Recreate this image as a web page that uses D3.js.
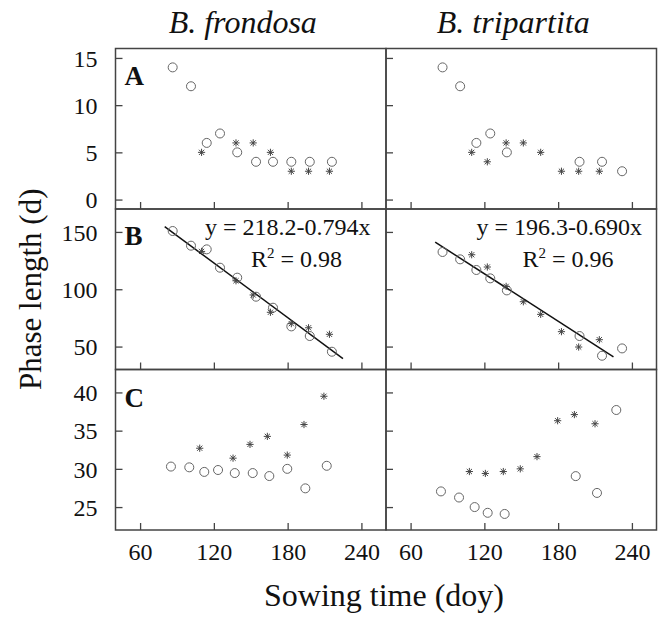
<!DOCTYPE html>
<html>
<head>
<meta charset="utf-8">
<script src="https://cdn.jsdelivr.net/npm/d3@7"></script>
<style>
  body { margin: 0; background: #fff; }
  text { font-family: "Liberation Serif", "DejaVu Serif", serif; fill: #111; }
</style>
</head>
<body>
<svg id="chart" width="664" height="619"></svg>
<script>
// sowing days (doy), per species and per symbol set
const frondosaCircleDays = [86.5, 101.4, 114.2, 125, 139, 154.3, 168.1, 183, 198, 216];
const frondosaStarDays = [110, 138, 152, 166, 183, 197, 214];
const tripartitaCircleDays = [86, 100.3, 113.5, 124.8, 138.3, 197.4, 215.7, 232];
const tripartitaStarDays = [109.7, 122.4, 137.7, 151.7, 165.8, 182.7, 196.7, 213.5];

// panel C days come out a bit to the left in the figure
const frondosaCircleDaysC = [85.1, 100, 112.2, 123.4, 137, 151.6, 165.1, 179.7, 194.4, 211.8];
const frondosaStarDaysC = [108.5, 135.6, 149.4, 163.5, 179.7, 193.3, 209.5];
const tripartitaCircleDaysC = [84.7, 99.4, 112.1, 122.7, 136.5, 194.3, 211.6, 227.3];
const tripartitaStarDaysC = [107.8, 120.8, 135.4, 149.2, 162.8, 179.6, 193.2, 210];

// A
const frondosaCircleA = [14, 12, 6, 7, 5, 4, 4, 4, 4, 4];
const frondosaStarA = [5, 6, 6, 5, 3, 3, 3];
const tripartitaCircleA = [14, 12, 6, 7, 5, 4, 4, 3];
const tripartitaStarA = [5, 4, 6, 6, 5, 3, 3, 3];

// B
const frondosaCircleB = [150.8, 138, 134.8, 118.8, 110.1, 93.5, 83.9, 67.6, 59.2, 45.5];
const frondosaStarB = [133, 107.4, 95, 79.9, 70, 66.4, 60.7];
const tripartitaCircleB = [132.5, 126.1, 116.8, 109.5, 99, 59.2, 42, 48.4];
const tripartitaStarB = [130.1, 119.4, 102.5, 89.1, 78.1, 63, 49.6, 56];

// C
const frondosaCircleC = [30.3, 30.2, 29.6, 29.85, 29.45, 29.45, 29.06, 30.0, 27.45, 30.4];
const frondosaStarC = [32.7, 31.4, 33.2, 34.25, 31.8, 35.8, 39.5];
const tripartitaCircleC = [27.05, 26.25, 25.0, 24.25, 24.1, 29.05, 26.85, 37.7];
const tripartitaStarC = [29.65, 29.4, 29.65, 30.0, 31.6, 36.3, 37.1, 35.9];

// regression lines (panel B)
const fitFrondosa = { a: 218.2, b: -0.794, from: 80, to: 225 };
const fitTripartita = { a: 196.3, b: -0.690, from: 80, to: 225 };

const xTicks = [60, 120, 180, 240];
const rowTicks = [[0, 5, 10, 15], [50, 100, 150], [25, 30, 35, 40]];
const rowDomains = [[-1, 16], [30, 170], [22, 43]];
const rowLetters = ["A", "B", "C"];
const speciesNames = ["B. frondosa", "B. tripartita"];

const colX = [115.5, 386];
const colW = 270.5;
const rowY = [48.5, 209, 369.5];
const rowH = 160.5;

const svg = d3.select("#chart");

const panels = [
    [
        { oc: frondosaCircleDays, ov: frondosaCircleA, sc: frondosaStarDays, sv: frondosaStarA },
        { oc: tripartitaCircleDays, ov: tripartitaCircleA, sc: tripartitaStarDays, sv: tripartitaStarA }
    ],
    [
        { oc: frondosaCircleDays, ov: frondosaCircleB, sc: frondosaStarDays, sv: frondosaStarB, fit: fitFrondosa, eq: "y = 218.2-0.794x", r2: "0.98" },
        { oc: tripartitaCircleDays, ov: tripartitaCircleB, sc: tripartitaStarDays, sv: tripartitaStarB, fit: fitTripartita, eq: "y = 196.3-0.690x", r2: "0.96" }
    ],
    [
        { oc: frondosaCircleDaysC, ov: frondosaCircleC, sc: frondosaStarDaysC, sv: frondosaStarC },
        { oc: tripartitaCircleDaysC, ov: tripartitaCircleC, sc: tripartitaStarDaysC, sv: tripartitaStarC }
    ]
];

const star = (r) => `M${-r},0L${r},0M0,${-r}L0,${r}` +
    `M${-r * 0.72},${-r * 0.72}L${r * 0.72},${r * 0.72}M${-r * 0.72},${r * 0.72}L${r * 0.72},${-r * 0.72}`;

panels.forEach((row, ri) => {
    row.forEach((p, ci) => {
        const x = d3.scaleLinear().domain([40, 260]).range([0, colW]);
        const y = d3.scaleLinear().domain(rowDomains[ri]).range([rowH, 0]);

        const g = svg.append("g")
            .attr("transform", `translate(${colX[ci]}, ${rowY[ri]})`);

        // inward ticks, left and bottom
        const xAxis = g.append("g")
            .attr("transform", `translate(0, ${rowH})`)
            .call(d3.axisBottom(x).tickValues(xTicks).tickSize(-7).tickFormat(ri === 2 ? d3.format("d") : ""));
        const yAxis = g.append("g")
            .call(d3.axisLeft(y).tickValues(rowTicks[ri]).tickSize(-7).tickFormat(ci === 0 ? d3.format("d") : ""));

        [xAxis, yAxis].forEach(a => {
            a.select(".domain").remove();
            a.selectAll("line").attr("stroke", "#444").attr("stroke-width", 1.3);
            a.selectAll("text")
                .style("font-family", "'Liberation Serif', serif")
                .style("font-size", "24px")
                .attr("fill", "#111");
        });
        xAxis.selectAll("text").attr("y", 13).attr("dy", "0.71em");
        yAxis.selectAll("text").attr("x", -18).attr("dy", "0.34em");

        g.append("rect")
            .attr("width", colW)
            .attr("height", rowH)
            .attr("fill", "none")
            .attr("stroke", "#444")
            .attr("stroke-width", 1.5);

        if (ci === 0) {
            g.append("text")
                .attr("x", 9)
                .attr("y", ri === 2 ? 37 : 36)
                .style("font-size", "27px")
                .style("font-weight", "bold")
                .text(rowLetters[ri]);
        }

        if (p.fit) {
            g.append("line")
                .attr("x1", x(p.fit.from))
                .attr("y1", y(p.fit.a + p.fit.b * p.fit.from))
                .attr("x2", x(p.fit.to))
                .attr("y2", y(p.fit.a + p.fit.b * p.fit.to))
                .attr("stroke", "#111")
                .attr("stroke-width", 1.5);

            const eqX = ci === 0 ? 89.5 : 90.5;
            g.append("text")
                .attr("x", eqX)
                .attr("y", 25.5)
                .style("font-size", "24px")
                .text(p.eq);
            const r2 = g.append("text")
                .attr("x", eqX + 46)
                .attr("y", 58)
                .style("font-size", "24px");
            r2.append("tspan").text("R");
            r2.append("tspan").attr("dy", -9).style("font-size", "15px").text("2");
            r2.append("tspan").attr("dy", 9).text(" = " + p.r2);
        }

        g.append("g")
            .selectAll("circle")
            .data(d3.zip(p.oc, p.ov))
            .enter()
            .append("circle")
            .attr("cx", (d) => x(d[0]))
            .attr("cy", (d) => y(d[1]))
            .attr("r", 4.5)
            .attr("fill", "none")
            .attr("stroke", "#666")
            .attr("stroke-width", 1);

        g.append("g")
            .selectAll("path")
            .data(d3.zip(p.sc, p.sv))
            .enter()
            .append("path")
            .attr("transform", (d) => `translate(${x(d[0])}, ${y(d[1])})`)
            .attr("d", star(3.6))
            .attr("stroke", "#444")
            .attr("stroke-width", 1);
    });
});

// column titles
speciesNames.forEach((s, i) => {
    svg.append("text")
        .attr("x", colX[i] + colW / 2 - 8)
        .attr("y", 33)
        .attr("text-anchor", "middle")
        .style("font-size", "32px")
        .style("font-style", "italic")
        .text(s);
});

svg.append("text")
    .attr("transform", `translate(41, ${rowY[0] + rowH * 1.5}) rotate(-90)`)
    .attr("text-anchor", "middle")
    .style("font-size", "31px")
    .text("Phase length (d)");

svg.append("text")
    .attr("x", colX[1] - 2)
    .attr("y", 606)
    .attr("text-anchor", "middle")
    .style("font-size", "32px")
    .text("Sowing time (doy)");
</script>
</body>
</html>
